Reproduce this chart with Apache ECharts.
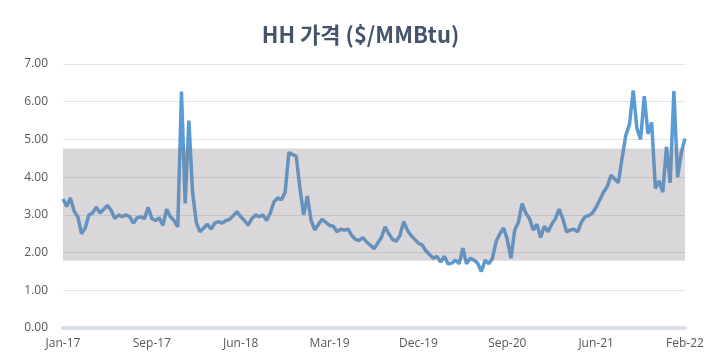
<!DOCTYPE html>
<html>
<head>
<meta charset="utf-8">
<script src="https://cdn.jsdelivr.net/npm/echarts@6/dist/echarts.min.js"></script>
<style>
html,body{margin:0;padding:0;background:#fff;}
#chart{width:721px;height:358px;}
</style>
</head>
<body>
<div id="chart"></div>
<script>
// tick labels shown every 24 points along the category axis
const tickLabels = ['Jan-17','Sep-17','Jun-18','Mar-19','Dec-19','Sep-20','Jun-21','Feb-22'];
const pointsPerTick = 24;

// Henry Hub price ($/MMBtu)
const hhPrice = [
  3.42,3.22,3.45,3.10,2.95,2.50,2.65,3.00,3.05,3.20,
  3.05,3.15,3.25,3.12,2.90,3.00,2.95,3.00,2.95,2.78,
  2.92,2.95,2.90,3.20,2.90,2.85,2.92,2.72,3.15,2.95,
  2.85,2.68,6.27,3.30,5.50,3.60,2.80,2.55,2.65,2.75,
  2.62,2.78,2.82,2.78,2.85,2.88,2.98,3.08,2.95,2.85,
  2.73,2.90,3.00,2.95,3.00,2.85,3.05,3.35,3.45,3.40,
  3.60,4.65,4.60,4.55,3.70,3.00,3.50,2.85,2.60,2.75,
  2.88,2.80,2.72,2.70,2.55,2.62,2.60,2.62,2.45,2.35,
  2.32,2.40,2.28,2.20,2.10,2.25,2.40,2.68,2.50,2.35,
  2.30,2.45,2.82,2.60,2.45,2.35,2.25,2.20,2.05,1.95,
  1.85,1.90,1.75,1.90,1.70,1.72,1.80,1.70,2.12,1.70,
  1.85,1.80,1.72,1.50,1.80,1.70,1.85,2.30,2.50,2.65,
  2.35,1.85,2.60,2.80,3.30,3.05,2.90,2.60,2.75,2.40,
  2.70,2.55,2.75,2.90,3.15,2.90,2.55,2.60,2.62,2.55,
  2.80,2.95,2.98,3.05,3.20,3.40,3.60,3.75,4.05,3.95,
  3.85,4.50,5.10,5.40,6.30,5.30,5.00,6.15,5.15,5.45,
  3.70,3.90,3.60,4.80,3.85,6.28,4.00,4.65,5.02
];

// shaded range band ($/MMBtu)
const bandLow = 1.78;
const bandHigh = 4.76;

const categories = hhPrice.map((v, i) => String(i));

const chart = echarts.init(document.getElementById('chart'), null, {renderer: 'canvas'});
chart.setOption({
  animation: false,
  backgroundColor: '#ffffff',
  title: {
    text: 'HH 가격 ($/MMBtu)',
    left: 'center',
    top: 19,
    textStyle: {
      fontFamily: '"Noto Sans CJK KR", sans-serif',
      fontWeight: 'bold',
      fontSize: 22,
      color: '#44546A'
    }
  },
  grid: {left: 63, right: 36, top: 64, bottom: 30, containLabel: false},
  xAxis: {
    type: 'category',
    data: categories,
    boundaryGap: false,
    axisLine: {lineStyle: {color: '#D9DFEA', width: 4}},
    axisTick: {show: false},
    axisLabel: {
      interval: pointsPerTick - 1,
      margin: 10,
      color: '#595959',
      fontFamily: '"Open Sans", sans-serif',
      fontSize: 12,
      formatter: (v, idx) => tickLabels[Math.round(idx / pointsPerTick)] || ''
    },
    splitLine: {show: false}
  },
  yAxis: {
    type: 'value',
    min: 0,
    max: 7,
    interval: 1,
    axisLine: {show: false},
    axisTick: {show: false},
    axisLabel: {
      margin: 15,
      color: '#595959',
      fontFamily: '"Open Sans", sans-serif',
      fontSize: 12,
      formatter: v => v.toFixed(2)
    },
    splitLine: {lineStyle: {color: '#E3E3E3', width: 1}}
  },
  series: [
    {
      type: 'line',
      data: hhPrice,
      z: 2,
      showSymbol: false,
      symbol: 'none',
      lineStyle: {color: '#5B9BD5', width: 3.5},
      silent: true
    },
    {
      type: 'line',
      data: [],
      z: 5,
      silent: true,
      markArea: {
        z: 10,
        silent: true,
        itemStyle: {color: 'rgba(128,124,128,0.3)'},
        data: [[{yAxis: bandLow}, {yAxis: bandHigh}]]
      }
    }
  ]
});
</script>
</body>
</html>
